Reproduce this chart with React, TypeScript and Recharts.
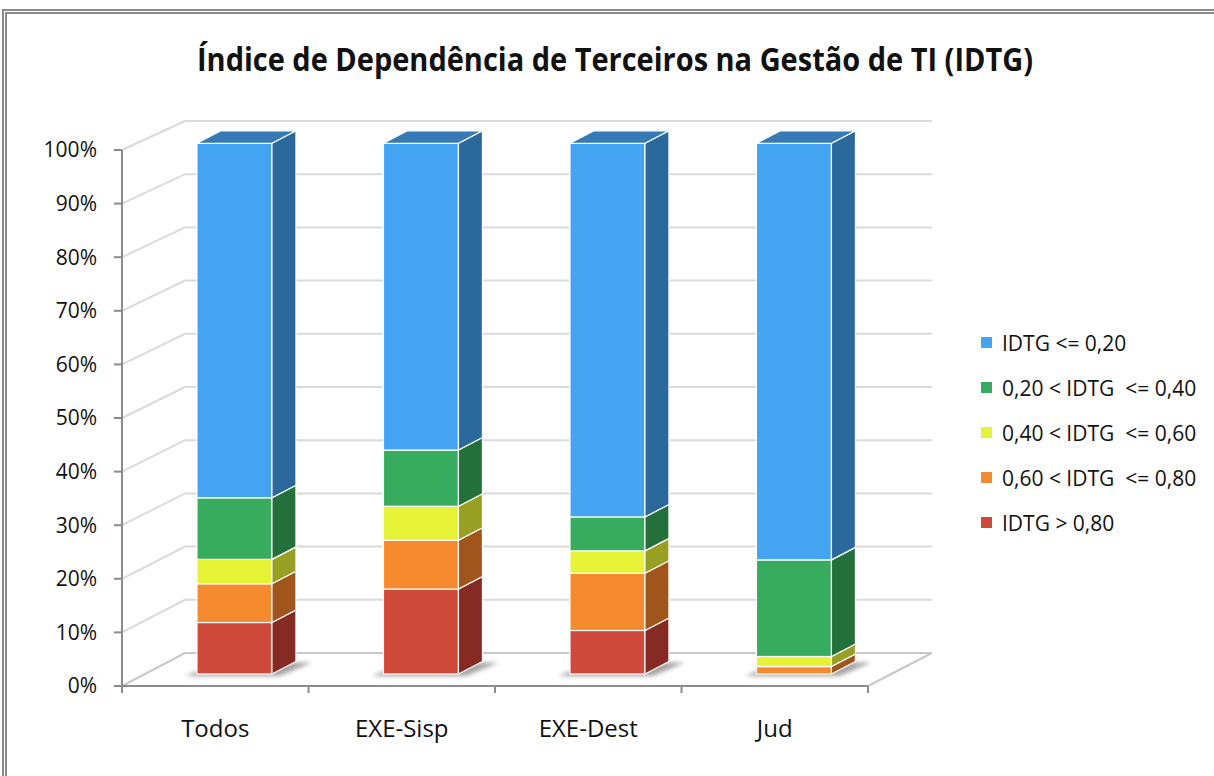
import React from "react";
import { BarChart, Bar, XAxis, YAxis, CartesianGrid } from "recharts";

// categories and the five IDTG bands (share of bodies, in %)
const categories = ["Todos", "EXE-Sisp", "EXE-Dest", "Jud"];
const idtgAbove080 = [9.7, 16.0, 8.2, 0];
const idtg060to080 = [7.3, 9.2, 10.8, 1.4];
const idtg040to060 = [4.6, 6.4, 4.2, 1.9];
const idtg020to040 = [11.6, 10.6, 6.4, 18.2];
const idtgUpTo020 = [66.8, 57.8, 70.4, 78.5];
const yTicks = [0, 10, 20, 30, 40, 50, 60, 70, 80, 90, 100];

const series = [
  { key: "gt80", name: "IDTG > 0,80", values: idtgAbove080, front: "#D04A3C", side: "#862A24" },
  { key: "r6080", name: "0,60 < IDTG  <= 0,80", values: idtg060to080, front: "#F58A2F", side: "#A0551D" },
  { key: "r4060", name: "0,40 < IDTG  <= 0,60", values: idtg040to060, front: "#E6F336", side: "#97A023" },
  { key: "r2040", name: "0,20 < IDTG  <= 0,40", values: idtg020to040, front: "#38AC5E", side: "#23703B" },
  { key: "le20", name: "IDTG <= 0,20", values: idtgUpTo020, front: "#45A4F1", side: "#2B699D", top: "#3679B5" },
];

const data = categories.map((name, i) => {
  const row: any = { name };
  series.forEach((s) => (row[s.key] = s.values[i]));
  return row;
});

// layout of the "3D" box
const W = 1214;
const H = 776;
const PLOT_LEFT = 122;
const PLOT_RIGHT = 868;
const PLOT_TOP = 150;
const PLOT_BOTTOM = 686;
const BACK_BOTTOM = 653;
const BACK_DX = 63;
const BACK_RIGHT = 932;
const BACK_K = 532 / 536;
const BAR_SHIFT_X = 19;
const BAR_BASE = 674;
const BAR_K = 530.7 / 536;
const DEPTH_X = 24;
const DEPTH_Y = 12.5;
const BAND = (PLOT_RIGHT - PLOT_LEFT) / categories.length;
const FONT = "'Open Sans', 'DejaVu Sans', sans-serif";

const toFront = (y: number) => BAR_BASE - (PLOT_BOTTOM - y) * BAR_K;

function make3D(front: string, side: string, top?: string) {
  return (props: any) => {
    const { x, y, width, height } = props;
    if (!height || height <= 0) return <g />;
    const X = x + BAR_SHIFT_X;
    const yt = toFront(y);
    const yb = toFront(y + height);
    const onFloor = Math.abs(y + height - PLOT_BOTTOM) < 0.5;
    return (
      <g>
        {onFloor && (
          <polygon
            points={`${X - 12},${yb + 2} ${X + width + 8},${yb + 2} ${X + width + DEPTH_X + 16},${yb - DEPTH_Y + 1} ${X + DEPTH_X},${yb - DEPTH_Y + 1}`}
            fill="#000"
            opacity={0.35}
            filter="url(#shadowBlur)"
          />
        )}
        <rect x={X} y={yt} width={width} height={yb - yt} fill={front} stroke="#fff" strokeWidth={1.2} />
        <polygon
          points={`${X + width},${yt} ${X + width + DEPTH_X},${yt - DEPTH_Y} ${X + width + DEPTH_X},${yb - DEPTH_Y} ${X + width},${yb}`}
          fill={side}
          stroke="#fff"
          strokeWidth={1.2}
          strokeLinejoin="round"
        />
        {top && (
          <polygon
            points={`${X},${yt} ${X + DEPTH_X},${yt - DEPTH_Y} ${X + width + DEPTH_X},${yt - DEPTH_Y} ${X + width},${yt}`}
            fill={top}
            stroke="#fff"
            strokeWidth={1.2}
            strokeLinejoin="round"
          />
        )}
      </g>
    );
  };
}

// gridline: side wall slant + back wall line
function WallLine(props: any) {
  const { x1, y1 } = props;
  const yb = BACK_BOTTOM - (PLOT_BOTTOM - y1) * BACK_K;
  const isFloor = Math.abs(y1 - PLOT_BOTTOM) < 0.5;
  return (
    <g key={`wall-${y1}`}>
      <polyline
        points={`${x1},${y1} ${x1 + BACK_DX},${yb} ${BACK_RIGHT},${yb}`}
        fill="none"
        stroke={isFloor ? "#c8c8c8" : "#dadada"}
        strokeWidth={2}
      />
      {isFloor && (
        <line x1={PLOT_RIGHT} y1={PLOT_BOTTOM} x2={BACK_RIGHT} y2={yb} stroke="#c8c8c8" strokeWidth={2} />
      )}
    </g>
  );
}

function CategoryTick(props: any) {
  const { x, payload } = props;
  const idx = payload.index ?? props.index ?? 0;
  return (
    <g>
      <line x1={x - BAND / 2} y1={PLOT_BOTTOM} x2={x - BAND / 2} y2={PLOT_BOTTOM + 7} stroke="#8c8c8c" strokeWidth={2} />
      {idx === categories.length - 1 && (
        <line x1={x + BAND / 2} y1={PLOT_BOTTOM} x2={x + BAND / 2} y2={PLOT_BOTTOM + 7} stroke="#8c8c8c" strokeWidth={2} />
      )}
      <text x={x} y={737} textAnchor="middle" fontSize={24} fontFamily={FONT} fill="#111">
        {payload.value}
      </text>
    </g>
  );
}

function Legend3D() {
  const rows = [...series].reverse();
  return (
    <div style={{ position: "absolute", left: 981, top: 320 }}>
      {rows.map((s) => (
        <div key={s.key} style={{ display: "flex", alignItems: "center", height: 45 }}>
          <div style={{ width: 11, height: 11, background: s.front, marginRight: 10 }} />
          <span style={{ fontFamily: FONT, fontSize: 21, color: "#111", whiteSpace: "pre", lineHeight: "24px" }}>
            {s.name}
          </span>
        </div>
      ))}
    </div>
  );
}

export default function App() {
  return (
    <div style={{ position: "fixed", left: 0, top: 0, width: W, height: H, overflow: "hidden", background: "#fff" }}>
      <div
        style={{
          position: "absolute",
          left: 2,
          top: 9,
          width: W + 40,
          height: H + 40,
          borderLeft: "5px double #8a8a8a",
          borderTop: "5px double #8a8a8a",
        }}
      />
      <svg width={W} height={100} style={{ position: "absolute", left: 0, top: 0 }}>
        <defs>
          <filter id="shadowBlur" x="-20%" y="-100%" width="140%" height="300%">
            <feGaussianBlur stdDeviation="2" />
          </filter>
        </defs>
        <text
          x={615}
          y={71}
          textAnchor="middle"
          fontFamily={FONT}
          fontWeight={700}
          fontSize={32}
          fill="#111"
          textLength={836}
          lengthAdjust="spacingAndGlyphs"
        >
          Índice de Dependência de Terceiros na Gestão de TI (IDTG)
        </text>
      </svg>
      <div style={{ position: "absolute", left: 0, top: 0 }}>
        <BarChart
          width={W}
          height={H}
          data={data}
          barCategoryGap="30%"
          margin={{ top: PLOT_TOP, left: PLOT_LEFT - 60, right: W - PLOT_RIGHT, bottom: H - PLOT_BOTTOM - 50 }}
        >
          <CartesianGrid vertical={false} horizontal={(p: any) => <WallLine {...p} />} />
          <XAxis
            dataKey="name"
            interval={0}
            height={50}
            tickLine={false}
            axisLine={{ stroke: "#8c8c8c", strokeWidth: 2 }}
            tick={<CategoryTick />}
          />
          <YAxis
            width={60}
            domain={[0, 100]}
            ticks={yTicks}
            interval={0}
            tickSize={8}
            tickMargin={17}
            tickFormatter={(v: number) => `${v}%`}
            axisLine={{ stroke: "#8c8c8c", strokeWidth: 2 }}
            tickLine={{ stroke: "#8c8c8c", strokeWidth: 2 }}
            tick={{ fontSize: 21, fontFamily: FONT, fill: "#111" }}
          />
          {series.map((s) => (
            <Bar
              key={s.key}
              dataKey={s.key}
              name={s.name}
              stackId="idtg"
              isAnimationActive={false}
              shape={make3D(s.front, s.side, (s as any).top)}
            />
          ))}
        </BarChart>
      </div>
      <Legend3D />
    </div>
  );
}
